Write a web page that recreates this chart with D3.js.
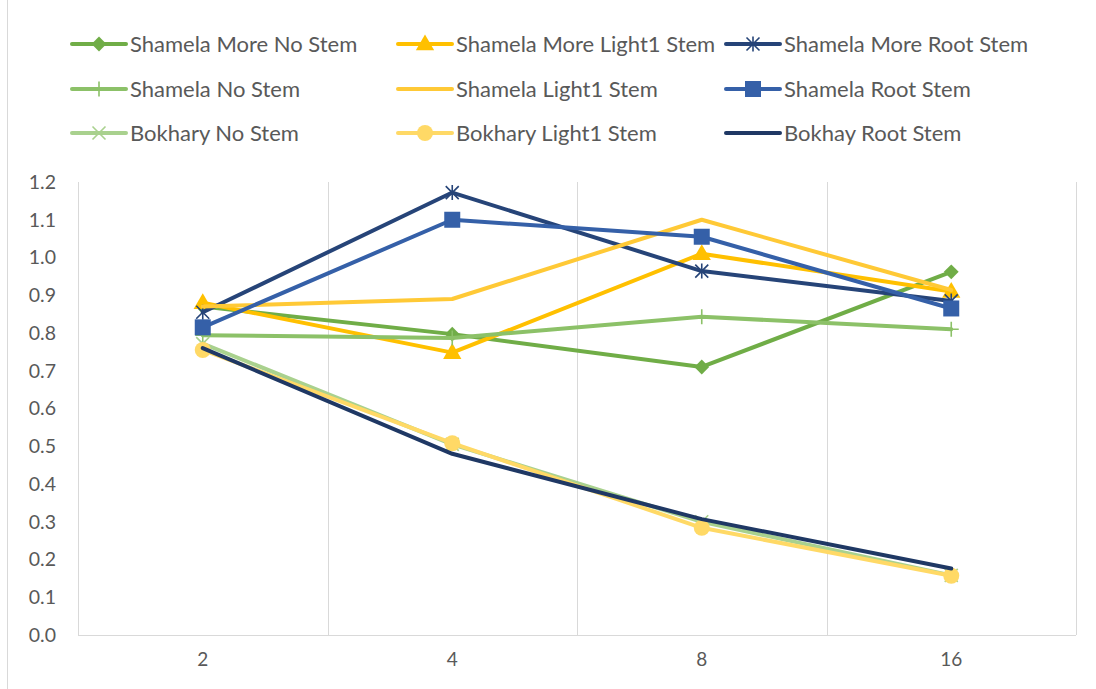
<!DOCTYPE html>
<html>
<head>
<meta charset="utf-8">
<script src="https://cdn.jsdelivr.net/npm/d3@7"></script>
<style>
  body { margin: 0; background: #fff; }
  text { font-family: Lato, "Open Sans", sans-serif; fill: #595959; }
</style>
</head>
<body>
<svg width="1096" height="689"></svg>
<script>
var categories = ["2", "4", "8", "16"];
var yTicks = [0, 0.1, 0.2, 0.3, 0.4, 0.5, 0.6, 0.7, 0.8, 0.9, 1.0, 1.1, 1.2];

var seriesNames = [
  "Shamela More No Stem", "Shamela More Light1 Stem", "Shamela More Root Stem",
  "Shamela No Stem", "Shamela Light1 Stem", "Shamela Root Stem",
  "Bokhary No Stem", "Bokhary Light1 Stem", "Bokhay Root Stem"
];
var shamelaMoreNoStem    = [0.87, 0.797, 0.71, 0.962];
var shamelaMoreLight1    = [0.88, 0.748, 1.01, 0.91];
var shamelaMoreRoot      = [0.855, 1.172, 0.964, 0.885];
var shamelaNoStem        = [0.794, 0.787, 0.843, 0.81];
var shamelaLight1        = [0.87, 0.89, 1.10, 0.914];
var shamelaRoot          = [0.815, 1.10, 1.055, 0.865];
var bokharyNoStem        = [0.772, 0.505, 0.30, 0.158];
var bokharyLight1        = [0.755, 0.508, 0.284, 0.157];
var bokhayRoot           = [0.76, 0.48, 0.307, 0.176];

var seriesColors = ["#70AD47", "#FFC000", "#264478", "#8CC168", "#FFC936", "#3560A8", "#A9D18E", "#FFD966", "#1F3864"];
var seriesMarkers = ["diamond", "triangle", "asterisk", "plus", "none", "square", "cross", "circle", "none"];

var seriesValues = [shamelaMoreNoStem, shamelaMoreLight1, shamelaMoreRoot, shamelaNoStem,
  shamelaLight1, shamelaRoot, bokharyNoStem, bokharyLight1, bokhayRoot];

var series = seriesNames.map(function(n, i) {
  return {name: n, values: seriesValues[i], color: seriesColors[i], marker: seriesMarkers[i]};
});

var svg = d3.select("svg");
var plotLeft = 78, plotRight = 1076, plotTop = 182, plotBottom = 635;

var x = d3.scaleBand().domain(categories).range([plotLeft, plotRight]);
var y = d3.scaleLinear().domain([0, 1.2]).range([plotBottom, plotTop]);

// outer chart border (left edge visible)
svg.append("line").attr("x1", 7.5).attr("x2", 7.5).attr("y1", 0).attr("y2", 689)
  .attr("stroke", "#d9d9d9").attr("stroke-width", 1);

// vertical gridlines between categories
var bounds = categories.map(function(c) { return x(c); }).concat([plotRight]);
svg.append("g").selectAll("line").data(bounds).enter().append("line")
  .attr("x1", function(d) { return Math.round(d) + 0.5; })
  .attr("x2", function(d) { return Math.round(d) + 0.5; })
  .attr("y1", plotTop).attr("y2", plotBottom)
  .attr("stroke", "#d9d9d9").attr("stroke-width", 1);

svg.append("line").attr("x1", plotLeft).attr("x2", plotRight)
  .attr("y1", plotBottom + 0.5).attr("y2", plotBottom + 0.5)
  .attr("stroke", "#d9d9d9").attr("stroke-width", 1);

// y labels
var yAxis = d3.axisLeft(y).tickValues(yTicks).tickFormat(d3.format(".1f")).tickSize(0).tickPadding(22);
var gy = svg.append("g").attr("transform", "translate(" + plotLeft + ",0)").call(yAxis);
gy.select(".domain").remove();
gy.selectAll("text").style("font-size", "19.5px").style("font-family", "Lato, sans-serif").attr("fill", "#595959");

// x labels
var xAxis = d3.axisBottom(x).tickSize(0).tickPadding(18);
var gx = svg.append("g").attr("transform", "translate(0," + plotBottom + ")").call(xAxis);
gx.select(".domain").remove();
gx.selectAll("text").style("font-size", "19px").style("font-family", "Lato, sans-serif").attr("fill", "#595959");

var line = d3.line()
  .x(function(d, i) { return x(categories[i]) + x.bandwidth() / 2; })
  .y(function(d) { return y(d); });

function drawMarker(g, type, color, cx, cy) {
  if (type === "diamond") {
    g.append("path").attr("d", d3.symbol().type(d3.symbolSquare).size(110)())
      .attr("transform", "translate(" + cx + "," + cy + ") rotate(45)").attr("fill", color);
  } else if (type === "triangle") {
    g.append("path").attr("d", d3.symbol().type(d3.symbolTriangle).size(145)())
      .attr("transform", "translate(" + cx + "," + (cy + 1) + ")").attr("fill", color);
  } else if (type === "square") {
    var w = 16;
    g.append("rect").attr("x", cx - w / 2).attr("y", cy - w / 2).attr("width", w).attr("height", w)
      .attr("fill", color);
  } else if (type === "circle") {
    g.append("circle").attr("cx", cx).attr("cy", cy).attr("r", 8).attr("fill", color);
  } else if (type === "plus") {
    var r = 7.5;
    g.append("path").attr("d", "M" + (cx - r) + "," + cy + "H" + (cx + r) + "M" + cx + "," + (cy - r) + "V" + (cy + r))
      .attr("stroke", color).attr("stroke-width", 1.6).attr("fill", "none");
  } else if (type === "cross") {
    var c = 6.5;
    g.append("path").attr("d", "M" + (cx - c) + "," + (cy - c) + "L" + (cx + c) + "," + (cy + c) +
        "M" + (cx - c) + "," + (cy + c) + "L" + (cx + c) + "," + (cy - c))
      .attr("stroke", color).attr("stroke-width", 1.6).attr("fill", "none");
  } else if (type === "asterisk") {
    var a = 6.5;
    g.append("path").attr("d", "M" + (cx - a) + "," + (cy - a) + "L" + (cx + a) + "," + (cy + a) +
        "M" + (cx - a) + "," + (cy + a) + "L" + (cx + a) + "," + (cy - a) +
        "M" + cx + "," + (cy - a - 1) + "V" + (cy + a + 1))
      .attr("stroke", color).attr("stroke-width", 1.6).attr("fill", "none");
  }
}

var plot = svg.append("g");
series.forEach(function(s) {
  var g = plot.append("g");
  g.append("path").datum(s.values).attr("d", line)
    .attr("fill", "none").attr("stroke", s.color).attr("stroke-width", 4)
    .attr("stroke-linejoin", "round").attr("stroke-linecap", "round");
  s.values.forEach(function(v, i) {
    drawMarker(g, s.marker, s.color, x(categories[i]) + x.bandwidth() / 2, y(v));
  });
});

// legend
var colX = [72, 398, 726];
var rowY = [44, 89, 133];
var legend = svg.append("g");
series.forEach(function(s, i) {
  var lx = colX[i % 3], ly = rowY[Math.floor(i / 3)];
  var g = legend.append("g");
  g.append("line").attr("x1", lx).attr("x2", lx + 54).attr("y1", ly).attr("y2", ly)
    .attr("stroke", s.color).attr("stroke-width", 4).attr("stroke-linecap", "round");
  drawMarker(g, s.marker, s.color, lx + 27, ly);
  g.append("text").attr("x", lx + 58).attr("y", ly).attr("dy", "0.35em")
    .style("font-size", "22px").text(s.name);
});
</script>
</body>
</html>
